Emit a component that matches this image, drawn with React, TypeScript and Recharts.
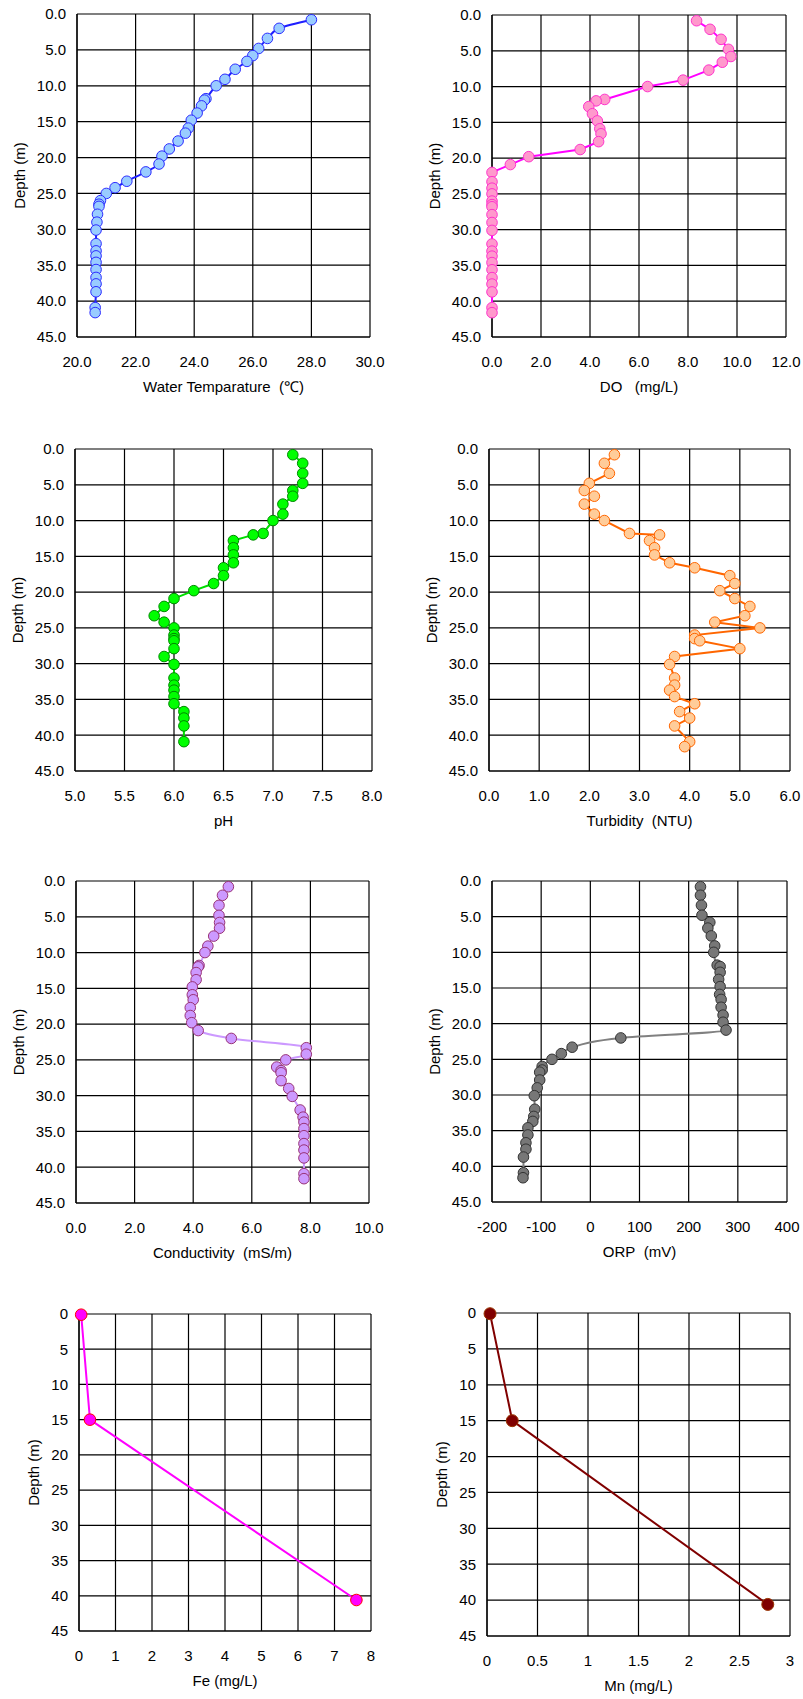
import React from "react";
import { CartesianGrid, Scatter, ScatterChart, XAxis, YAxis } from "recharts";

// measurement depths (m), shared by the sonde profiles
const depth = [
  0.8, 2.0, 3.4, 4.8, 5.8, 6.6, 7.7, 9.1, 10.0, 11.8, 12.0, 12.8, 13.8, 14.8,
  15.9, 16.6, 17.7, 18.8, 19.8, 20.9, 22.0, 23.3, 24.2, 25.0, 26.0, 26.5, 26.8,
  27.9, 29.0, 30.1, 32.0, 33.0, 33.7, 34.6, 35.6, 36.7, 37.6, 38.7, 40.9, 41.6,
];

const waterTemp = [
  28.0, 26.9, 26.5, 26.2, 26.0, 25.8, 25.4, 25.05, 24.75, 24.4, 24.35, 24.25,
  24.1, 23.9, 23.8, 23.7, 23.45, 23.15, 22.9, 22.8, 22.35, 21.7, 21.3, 21.0,
  20.8, 20.75, 20.75, 20.7, 20.68, 20.65, 20.65, 20.65, 20.65, 20.65, 20.65,
  20.65, 20.65, 20.65, 20.62, 20.62,
];

const dissolvedOxygen = [
  8.35, 8.9, 9.35, 9.65, 9.75, 9.4, 8.85, 7.8, 6.35, 4.6, 4.25, 3.95, 4.1, 4.3,
  4.4, 4.45, 4.35, 3.6, 1.5, 0.75, 0, 0, 0, 0, 0, 0, 0, 0, 0, 0, 0, 0, 0, 0, 0,
  0, 0, 0, 0, 0,
];

const ph = [
  7.2, 7.3, 7.3, 7.3, 7.2, 7.2, 7.1, 7.1, 7.0, 6.9, 6.8, 6.6, 6.6, 6.6, 6.6,
  6.5, 6.5, 6.4, 6.2, 6.0, 5.9, 5.8, 5.9, 6.0, 6.0, 6.0, 6.0, 6.0, 5.9, 6.0,
  6.0, 6.0, 6.0, 6.0, 6.0, 6.1, 6.1, 6.1, 6.1, null,
];

const turbidity = [
  2.5, 2.3, 2.4, 2.0, 1.9, 2.1, 1.9, 2.1, 2.3, 2.8, 3.4, 3.2, 3.3, 3.3, 3.6,
  4.1, 4.8, 4.9, 4.6, 4.9, 5.2, 5.1, 4.5, 5.4, 4.1, 4.1, 4.2, 5.0, 3.7, 3.6,
  3.7, 3.7, 3.6, 3.7, 4.1, 3.8, 4.0, 3.7, 4.0, 3.9,
];

const conductivity = [
  5.2, 5.0, 4.88, 4.88, 4.9, 4.9, 4.7, 4.5, 4.4, 4.2, 4.17, 4.1, 4.1, 3.97,
  3.97, 4.0, 3.9, 3.9, 3.95, 4.17, 5.3, 7.86, 7.86, 7.16, 6.85, 7.0, 7.0, 7.0,
  7.26, 7.38, 7.65, 7.75, 7.78, 7.78, 7.78, 7.78, 7.78, 7.78, 7.78, 7.78,
];

const orp = [
  224, 224, 226, 227, 243, 239, 246, 253, 251, 258, 264, 264, 261, 264, 263,
  266, 266, 270, 270, 276, 62, -37, -59, -78, -98, -98, -103, -103, -108, -114,
  -113, -115, -117, -127, -127, -131, -131, -136, -136, -137,
];

// bottle samples
const sampleDepth = [0.1, 15.0, 40.6];
const iron = [0.06, 0.3, 7.6];
const manganese = [0.03, 0.25, 2.78];

const depthTicks = [0, 5, 10, 15, 20, 25, 30, 35, 40, 45];
const tempTicks = [20, 22, 24, 26, 28, 30];
const doTicks = [0, 2, 4, 6, 8, 10, 12];
const phTicks = [5, 5.5, 6, 6.5, 7, 7.5, 8];
const turbTicks = [0, 1, 2, 3, 4, 5, 6];
const condTicks = [0, 2, 4, 6, 8, 10];
const orpTicks = [-200, -100, 0, 100, 200, 300, 400];
const feTicks = [0, 1, 2, 3, 4, 5, 6, 7, 8];
const mnTicks = [0, 0.5, 1, 1.5, 2, 2.5, 3];

const FONT = '"Liberation Sans", Arial, Helvetica, sans-serif';

const toPoints = (values: (number | null)[], depths: number[]) =>
  depths
    .map((d, i) => ({ v: values[i], d }))
    .filter((p) => p.v !== null && p.v !== undefined);

const fixed = (n: number) => (t: number) => t.toFixed(n);
const plain = (t: number) => String(t);

type ProfileProps = {
  box: { x: number; y: number; w: number; h: number };
  labelGap: number;
  data: { v: number | null; d: number }[];
  xTicks: number[];
  xFormat: (t: number) => string;
  yFormat: (t: number) => string;
  xLabel: string;
  lineColor: string;
  fill: string;
  stroke: string;
  r?: number;
  curve?: string;
};

const Profile = ({
  box,
  labelGap,
  data,
  xTicks,
  xFormat,
  yFormat,
  xLabel,
  lineColor,
  fill,
  stroke,
  r = 5.3,
  curve = "linear",
}: ProfileProps) => {
  const yw = labelGap * 2;
  const top = 14;
  const right = Math.min(20, 803 - box.x - box.w);
  const xh = 62;
  return (
    <div style={{ position: "absolute", left: box.x - yw, top: box.y - top }}>
      <ScatterChart
        width={yw + box.w + right}
        height={top + box.h + xh}
        margin={{ top, right, bottom: 0, left: 0 }}
      >
        <CartesianGrid stroke="#000" strokeWidth={1.2} />
        <XAxis
          type="number"
          dataKey="v"
          domain={[xTicks[0], xTicks[xTicks.length - 1]]}
          ticks={xTicks}
          interval={0}
          height={xh}
          tickLine={false}
          tickSize={0}
          tickMargin={19}
          axisLine={{ stroke: "#000", strokeWidth: 1.2 }}
          tick={{ fill: "#000", fontSize: 15 }}
          tickFormatter={xFormat}
          label={{
            value: xLabel,
            position: "insideBottom",
            offset: 7,
            fill: "#000",
            fontSize: 15,
          }}
        />
        <YAxis
          type="number"
          dataKey="d"
          reversed
          domain={[0, 45]}
          ticks={depthTicks}
          interval={0}
          width={yw}
          tickLine={false}
          tickSize={0}
          tickMargin={11}
          axisLine={{ stroke: "#000", strokeWidth: 1.2 }}
          tick={{ fill: "#000", fontSize: 15 }}
          tickFormatter={yFormat}
          label={{
            value: "Depth (m)",
            angle: -90,
            position: "center",
            fill: "#000",
            fontSize: 15,
          }}
        />
        <Scatter
          data={data}
          isAnimationActive={false}
          fill={fill}
          line={{ stroke: lineColor, strokeWidth: 2 }}
          lineJointType={curve as any}
          shape={(p: any) => (
            <circle cx={p.cx} cy={p.cy} r={r} fill={fill} stroke={stroke} strokeWidth={1} />
          )}
        />
      </ScatterChart>
    </div>
  );
};

export default function App() {
  return (
    <div
      style={{
        position: "absolute",
        left: 0,
        top: 0,
        width: 803,
        height: 1699,
        overflow: "hidden",
        background: "#fff",
        fontFamily: FONT,
      }}
    >
      <Profile
        box={{ x: 77, y: 14, w: 293, h: 323 }}
        labelGap={57}
        data={toPoints(waterTemp, depth)}
        xTicks={tempTicks}
        xFormat={fixed(1)}
        yFormat={fixed(1)}
        xLabel={"Water Temparature\u00A0\u00A0(\u2103)"}
        lineColor="#1f1fff"
        fill="#99ccff"
        stroke="#2b2bff"
        curve="monotoneY"
      />
      <Profile
        box={{ x: 492, y: 15, w: 294, h: 322 }}
        labelGap={57}
        data={toPoints(dissolvedOxygen, depth)}
        xTicks={doTicks}
        xFormat={fixed(1)}
        yFormat={fixed(1)}
        xLabel={"DO\u00A0\u00A0\u00A0(mg/L)"}
        lineColor="#ff00ff"
        fill="#ff99cc"
        stroke="#ff33cc"
      />
      <Profile
        box={{ x: 75, y: 449, w: 297, h: 322 }}
        labelGap={57}
        data={toPoints(ph, depth)}
        xTicks={phTicks}
        xFormat={fixed(1)}
        yFormat={fixed(1)}
        xLabel="pH"
        lineColor="#00dd00"
        fill="#00ff00"
        stroke="#008800"
      />
      <Profile
        box={{ x: 489, y: 449, w: 301, h: 322 }}
        labelGap={57}
        data={toPoints(turbidity, depth)}
        xTicks={turbTicks}
        xFormat={fixed(1)}
        yFormat={fixed(1)}
        xLabel={"Turbidity\u00A0\u00A0(NTU)"}
        lineColor="#ff6600"
        fill="#ffcc99"
        stroke="#ff6600"
      />
      <Profile
        box={{ x: 76, y: 881, w: 293, h: 322 }}
        labelGap={57}
        data={toPoints(conductivity, depth)}
        xTicks={condTicks}
        xFormat={fixed(1)}
        yFormat={fixed(1)}
        xLabel={"Conductivity\u00A0\u00A0(mS/m)"}
        lineColor="#cc99ff"
        fill="#cc99ff"
        stroke="#993377"
        curve="monotoneY"
      />
      <Profile
        box={{ x: 492, y: 881, w: 295, h: 321 }}
        labelGap={57}
        data={toPoints(orp, depth)}
        xTicks={orpTicks}
        xFormat={plain}
        yFormat={fixed(1)}
        xLabel={"ORP\u00A0\u00A0(mV)"}
        lineColor="#808080"
        fill="#777777"
        stroke="#333333"
        curve="monotoneY"
      />
      <Profile
        box={{ x: 79, y: 1314, w: 292, h: 317 }}
        labelGap={45}
        data={toPoints(iron, sampleDepth)}
        xTicks={feTicks}
        xFormat={plain}
        yFormat={plain}
        xLabel="Fe (mg/L)"
        lineColor="#ff00ff"
        fill="#ff00ff"
        stroke="#ff0000"
        r={5.8}
      />
      <Profile
        box={{ x: 487, y: 1313, w: 303, h: 323 }}
        labelGap={45}
        data={toPoints(manganese, sampleDepth)}
        xTicks={mnTicks}
        xFormat={plain}
        yFormat={plain}
        xLabel="Mn (mg/L)"
        lineColor="#800000"
        fill="#800000"
        stroke="#993300"
        r={6}
      />
    </div>
  );
}
